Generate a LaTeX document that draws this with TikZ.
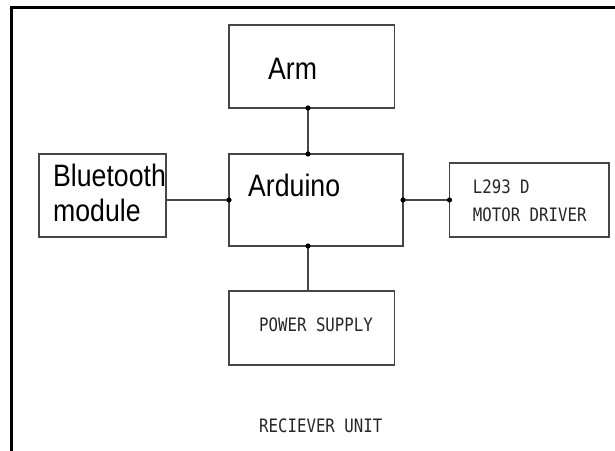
\documentclass[tikz,border=0pt]{standalone}
\usepackage{fontspec}
\setmainfont{Liberation Sans}
\newfontfamily\blockfont[FakeStretch=0.86]{Liberation Sans}
\newfontfamily\cadfont[FakeStretch=0.85]{DejaVu Sans Mono}
\definecolor{edge}{RGB}{70,70,70}
\usepackage{tikz}

\begin{document}
\begin{tikzpicture}[x=1bp,y=-1bp,
  blk/.style={draw=edge, line width=1.8bp, minimum width=#1, anchor=north west, inner sep=0pt, outer sep=0pt},
  big/.style={font=\blockfont\fontsize{31bp}{35bp}\selectfont, inner sep=0pt, anchor=base west, align=left},
  cad/.style={font=\cadfont\fontsize{18.5bp}{22bp}\selectfont, text=black!85, inner sep=0pt, anchor=base west},
  wire/.style={draw=edge, line width=1.8bp},
  dot/.style={fill=black}]
  \useasboundingbox (0,0) rectangle (615,451);
  %% Outer frame
  \draw[line width=3bp, black] (11,451) -- (11,8) -- (615,8);
  %% Blocks
  \node[blk=165.5bp, minimum height=83bp] (arm) at (229,25) {};
  \node[blk=174bp, minimum height=92bp] (ard) at (229,154) {};
  \node[blk=127bp, minimum height=83bp] (bt) at (39,154) {};
  \node[blk=159.3bp, minimum height=74.5bp] (drv) at (449.5,162.7) {};
  \node[blk=165.5bp, minimum height=74bp] (psu) at (229,291) {};
  %% Labels
  \node[big] (armtxt) at (268,80) {Arm};
  \node[big] (ardtxt) at (248,197) {Arduino};
  \node[big] (bttxt) at (53,222) {Bluetooth\\module};
  \node[cad] (drvtxt) at (472.7,194) {L293 D};
  \node[cad] (drvtxt2) at (472.7,221.7) {MOTOR DRIVER};
  \node[cad] (psutxt) at (259,331.7) {POWER SUPPLY};
  \node[cad] (unit) at (259,432) {RECIEVER UNIT};
  %% Connectors
  \coordinate (bus) at (308,0);
  \draw[wire] (arm.south -| bus) -- (ard.north -| bus);
  \draw[wire] (ard.south -| bus) -- (psu.north -| bus);
  \draw[wire] (bt.east |- ard.west) -- (ard.west);
  \draw[wire] (ard.east) -- (drv.west |- ard.east);
  %% Junction dots
  \foreach \p in {arm.south -| bus, ard.north -| bus, ard.south -| bus, ard.west, ard.east, drv.west |- ard.east}
    \fill[dot] (\p) circle (2.6bp);
\end{tikzpicture}
\end{document}
